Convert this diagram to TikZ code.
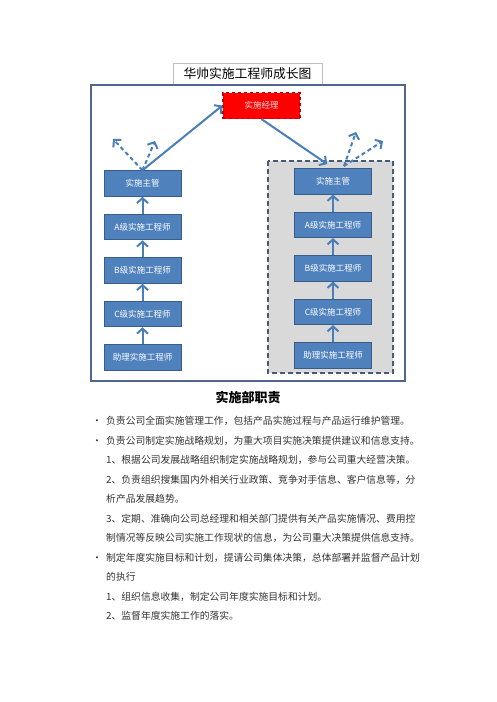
\documentclass[tikz,border=0pt]{standalone}
\usepackage{fontspec}
\setmainfont{Noto Sans CJK SC}
\usetikzlibrary{arrows.meta,positioning}
\definecolor{boxblue}{HTML}{4F81BD}
\definecolor{boxedge}{HTML}{385D8A}
\definecolor{arrowblue}{HTML}{4A7EBB}
\definecolor{framegray}{HTML}{50658F}
\definecolor{zonegray}{HTML}{D9D9D9}
\definecolor{zoneedge}{HTML}{475A7A}
\definecolor{mgrred}{HTML}{FF0000}
\definecolor{mgredge}{HTML}{C00000}

\begin{document}
\begin{tikzpicture}[x=1pt,y=-1pt,
  level/.style={rectangle, draw=boxedge, line width=1pt, fill=boxblue, text=white,
               minimum width=77pt, minimum height=25.5pt, inner sep=0pt, font=\fontsize{8.5}{10}\selectfont},
  mgr/.style={rectangle, draw=mgredge, dashed, line width=1.2pt, fill=mgrred, text=white!88!red,
              minimum width=77pt, minimum height=26pt, inner sep=0pt, font=\fontsize{8.5}{10}\selectfont},
  up/.style={-{Straight Barb[length=5pt,width=11pt]}, line width=2pt, arrowblue},
  branch/.style={up, dash pattern=on 4pt off 3pt},
  node distance=17pt
]
\useasboundingbox (0,0) rectangle (496,702);

\node[draw=black!25, fill=white, minimum width=149pt, minimum height=22pt,
      font=\fontsize{12.8}{14}\selectfont](title) at (247.5,74){华帅实施工程师成长图};
\draw[framegray, line width=1.6pt](91,85) rectangle (405,381);
\draw[zoneedge, fill=zonegray, line width=1.5pt, dash pattern=on 5pt off 3pt](268,161) rectangle (393,373);

\node[mgr](mgr) at (261.5,105.5){实施经理};

\node[level](lsup) at (142.5,183.5){实施主管};
\node[level,below=of lsup](la){A级实施工程师};
\node[level,below=of la](lb){B级实施工程师};
\node[level,below=of lb](lc){C级实施工程师};
\node[level,below=of lc](lasst){助理实施工程师};

\node[level](rsup) at (333,181.3){实施主管};
\node[level,below=of rsup](ra){A级实施工程师};
\node[level,below=of ra](rb){B级实施工程师};
\node[level,below=of rb](rc){C级实施工程师};
\node[level,below=of rc](rasst){助理实施工程师};

\draw[up](la)--(lsup);
\draw[up](lb)--(la);
\draw[up](lc)--(lb);
\draw[up](lasst)--(lc);
\draw[up](ra)--(rsup);
\draw[up](rb)--(ra);
\draw[up](rc)--(rb);
\draw[up](rasst)--(rc);

\draw[up](lsup.north)--(mgr.west);
\draw[up, shorten >=7pt](mgr.south)--(rsup.north);

\coordinate(lout1) at (113,139);
\coordinate(lout2) at (155,141);
\coordinate(rfoot) at ([xshift=11pt,yshift=2pt]rsup.north);
\coordinate(rout1) at (356,132);
\coordinate(rout2) at (383,141);
\draw[branch](lsup.north)--(lout1);
\draw[branch](lsup.north)--(lout2);
\draw[branch](rfoot)--(rout1);
\draw[branch](rfoot)--(rout2);

\node[font=\fontsize{13}{15}\selectfont\bfseries](duty) at (248,398){实施部职责};
\node[anchor=base west, align=left, inner sep=0pt, text=black!80,
      font=\fontsize{9.8}{19.5}\selectfont](list) at (92,619.7){%
\makebox[14pt][l]{•}负责公司全面实施管理工作，包括产品实施过程与产品运行维护管理。\\
\makebox[14pt][l]{•}负责公司制定实施战略规划，为重大项目实施决策提供建议和信息支持。\\
\makebox[14pt]{}1、根据公司发展战略组织制定实施战略规划，参与公司重大经营决策。\\
\makebox[14pt]{}2、负责组织搜集国内外相关行业政策、竞争对手信息、客户信息等，分\\
\makebox[14pt]{}析产品发展趋势。\\
\makebox[14pt]{}3、定期、准确向公司总经理和相关部门提供有关产品实施情况、费用控\\
\makebox[14pt]{}制情况等反映公司实施工作现状的信息，为公司重大决策提供信息支持。\\
\makebox[14pt][l]{•}制定年度实施目标和计划，提请公司集体决策，总体部署并监督产品计划\\
\makebox[14pt]{}的执行\\
\makebox[14pt]{}1、组织信息收集，制定公司年度实施目标和计划。\\
\makebox[14pt]{}2、监督年度实施工作的落实。};
\end{tikzpicture}
\end{document}
